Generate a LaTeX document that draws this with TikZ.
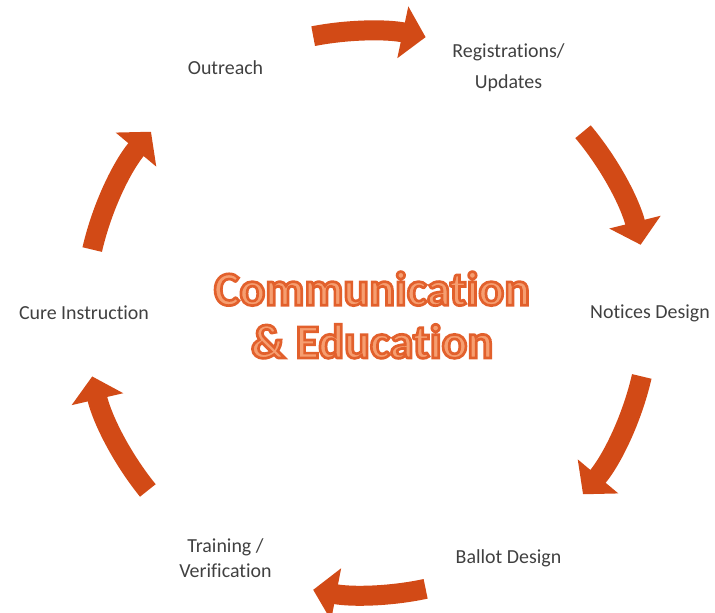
\documentclass[tikz,border=0pt]{standalone}
\usepackage{fontspec}
\setmainfont{Carlito}[Ligatures=NoCommon]
\usepackage{tikz}
\usetikzlibrary{arrows.meta}
\usepackage{xcolor}
\definecolor{cyclered}{RGB}{210,74,22}
\definecolor{labelgray}{RGB}{64,64,64}
\definecolor{wordfill}{RGB}{246,158,112}
\definecolor{wordline}{RGB}{226,96,44}
% outlined letters: fill, then stroke in wordline
\newcommand{\outlined}{\special{pdf:literal direct 2 Tr 2.3 w 0.886 0.376 0.173 RG}}

\begin{document}
\begin{tikzpicture}[x=0.03cm,y=0.03cm,
		lbl/.style={text=labelgray,font=\fontsize{17}{21}\selectfont,align=center},
		cyc/.style={draw=cyclered,line width=0.6cm,-{Triangle[length=0.7cm,width=1.55cm]}}]
		\def\rr{8.46cm}
		\def\rl{283}
		\useasboundingbox (-367,-300) rectangle (348,313);
		\coordinate (mid) at (0,0);
		% the six steps
		\node[lbl] (outreach) at (120:\rl) {Outreach};
		\node[lbl] (regs) at (60:\rl) {Registrations/\\[5pt]Updates};
		\node[lbl] (notices) at (0:\rl) {Notices Design};
		\node[lbl] (ballot) at (-60:\rl) {Ballot Design};
		\node[lbl] (training) at (-120:\rl) {Training /\\Verification};
		\node[lbl] (cure) at (180:\rl) {Cure Instruction};
		% centre title
		\node[text=wordfill,font=\fontsize{41}{45}\selectfont\bfseries,align=center] (title) at (5,-2)
			{\outlined Communication\\\outlined\& Education};
		% arrows round the circle
		\coordinate (t1) at (101:\rr);
		\coordinate (t2) at (40:\rr);
		\coordinate (t3) at (-13:\rr);
		\coordinate (t4) at (-78:\rr);
		\coordinate (t5) at (-141:\rr);
		\coordinate (t6) at (167:\rr);
		\draw[cyc] (t1) arc[start angle=101,end angle=78,radius=\rr];
		\draw[cyc] (t2) arc[start angle=40,end angle=14,radius=\rr];
		\draw[cyc] (t3) arc[start angle=-13,end angle=-40,radius=\rr];
		\draw[cyc] (t4) arc[start angle=-78,end angle=-101,radius=\rr];
		\draw[cyc] (t5) arc[start angle=-141,end angle=-167,radius=\rr];
		\draw[cyc] (t6) arc[start angle=167,end angle=140,radius=\rr];
\end{tikzpicture}
\end{document}
